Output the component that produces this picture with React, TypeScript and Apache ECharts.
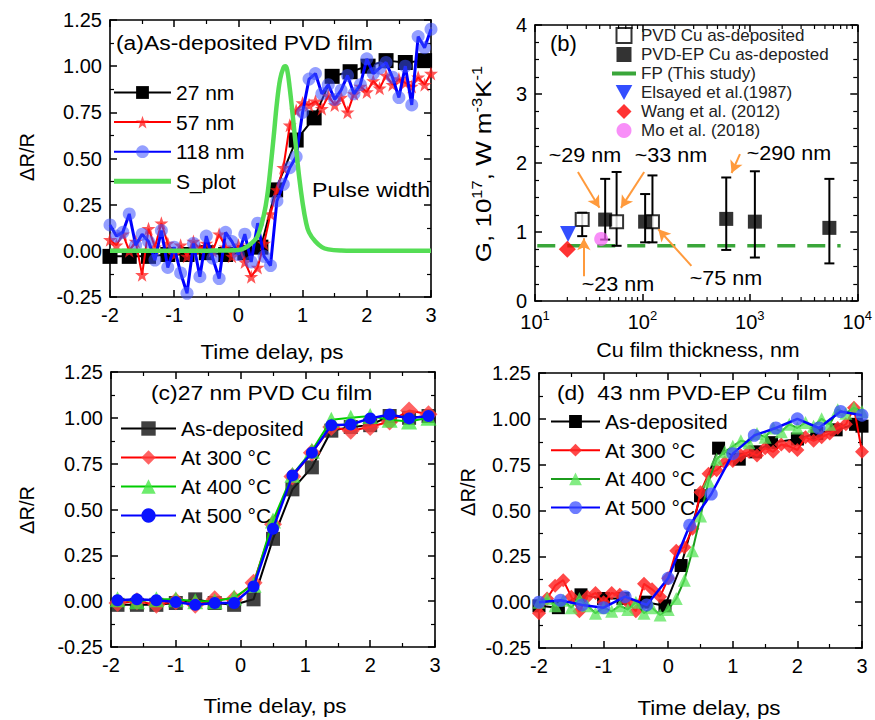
import React, { useEffect, useRef } from 'react';
import * as echarts from 'echarts';

const FONT = '"Liberation Sans", Arial, Helvetica, sans-serif';
const STAR = 'path://M50,2 L61.8,35.5 L97.6,35.5 L68.9,56.9 L79.4,91 L50,70.2 L20.6,91 L31.1,56.9 L2.4,35.5 L38.2,35.5 Z';

// ---------- Panel (a): as-deposited PVD film ----------
const t27 = [-2, -1.7, -1.4, -1.1, -0.8, -0.5, -0.2, 0.1, 0.35, 0.58, 0.9, 1.18, 1.46, 1.74, 2.02, 2.3, 2.6, 2.9];
const v27 = [-0.03, -0.03, -0.03, -0.02, -0.02, -0.01, -0.02, -0.01, 0.02, 0.33, 0.6, 0.72, 0.945, 0.97, 1.0, 1.03, 1.02, 1.03];
const tA = [-2, -1.9, -1.8, -1.7, -1.6, -1.5, -1.4, -1.3, -1.2, -1.1, -1, -0.9, -0.8, -0.7, -0.6, -0.5, -0.4, -0.3, -0.2, -0.1, 0, 0.1, 0.2, 0.3, 0.4, 0.5, 0.6, 0.7, 0.8, 0.9, 1, 1.1, 1.2, 1.3, 1.4, 1.5, 1.6, 1.7, 1.8, 1.9, 2, 2.1, 2.2, 2.3, 2.4, 2.5, 2.6, 2.7, 2.8, 2.9, 3];
const v57 = [0.06, 0.03, 0.09, 0.0, 0.05, -0.13, 0.12, 0.02, 0.15, 0.04, -0.02, 0.03, -0.03, 0.05, 0.01, 0.04, 0.0, 0.09, 0.02, -0.03, 0.03, -0.06, -0.14, -0.09, 0.04, 0.2, 0.33, 0.45, 0.68, 0.76, 0.8, 0.79, 0.81, 0.77, 0.84, 0.79, 0.83, 0.75, 0.85, 0.89, 0.86, 0.92, 0.88, 0.95, 0.9, 0.93, 0.91, 0.89, 0.94, 0.9, 0.96];
const v118 = [0.14, 0.08, 0.1, 0.2, 0.03, 0.09, 0.05, -0.05, 0.11, -0.09, 0.02, -0.12, -0.23, 0.04, -0.14, 0.08, -0.04, -0.15, 0.1, 0.05, -0.02, 0.09, -0.06, 0.15, -0.03, -0.08, 0.27, 0.36, 0.45, 0.51, 0.75, 0.93, 0.96, 0.85, 0.9, 0.82, 0.87, 0.95, 0.85, 0.9, 1.04, 0.96, 0.99, 1.02, 0.94, 0.83, 1.0, 0.79, 1.16, 1.1, 1.2];
const tS = [-2, -1, -0.5, 0, 0.1, 0.2, 0.3, 0.4, 0.45, 0.5, 0.55, 0.6, 0.65, 0.7, 0.73, 0.76, 0.8, 0.85, 0.9, 0.95, 1.0, 1.05, 1.1, 1.2, 1.3, 1.4, 1.6, 2, 3];
const vS = [0, 0, 0.001, 0.005, 0.015, 0.04, 0.08, 0.2, 0.3, 0.45, 0.62, 0.8, 0.93, 0.99, 1.0, 0.98, 0.88, 0.72, 0.55, 0.39, 0.26, 0.16, 0.1, 0.05, 0.02, 0.008, 0.002, 0, 0];

// ---------- Panel (b): coupling factor G vs thickness ----------
const pvdThk = [27.5, 57.5, 124];
const pvdG = [1.18, 1.15, 1.15];
const pvdLo = [0.94, 0.8, 0.85];
const pvdHi = [1.28, 1.87, 1.82];
const epThk = [45, 106, 603, 1114, 5500];
const epG = [1.18, 1.15, 1.19, 1.15, 1.06];
const epLo = [0.89, 0.85, 0.74, 0.63, 0.545];
const epHi = [1.77, 1.55, 1.79, 1.88, 1.77];
const fpThk = [10.5, 7000];
const fpG = [0.8, 0.8];
const elsayed = [[20.3, 0.97]];
const wang = [[20, 0.75]];
const mo = [[41.3, 0.9]];
const arrowFrom = [[25.1, 1.87], [103.8, 1.87], [28.5, 0.36], [285.8, 0.51], [809, 2.13]];
const arrowTo = [[39.8, 1.35], [63.1, 1.35], [28.5, 0.91], [140.6, 1.04], [676, 1.855]];
const logMinor = [20, 30, 40, 50, 60, 70, 80, 90, 200, 300, 400, 500, 600, 700, 800, 900, 2000, 3000, 4000, 5000, 6000, 7000, 8000, 9000];

// ---------- Panel (c): 27 nm PVD Cu film ----------
const tC = [-1.9, -1.6, -1.3, -1.0, -0.7, -0.4, -0.1, 0.2, 0.5, 0.8, 1.1, 1.4, 1.7, 2.0, 2.3, 2.6, 2.9];
const cAs = [-0.02, -0.02, -0.02, -0.01, 0.01, -0.01, -0.02, 0.01, 0.34, 0.61, 0.73, 0.93, 0.95, 0.96, 1.01, 1.0, 1.01];
const c300 = [-0.01, 0.0, -0.02, 0.0, -0.02, 0.01, 0.01, 0.1, 0.42, 0.68, 0.81, 0.95, 0.93, 0.95, 0.98, 1.04, 1.02];
const c400 = [0.01, 0.0, 0.01, 0.01, 0.0, 0.0, 0.02, 0.09, 0.44, 0.69, 0.82, 0.99, 1.0, 1.01, 0.99, 0.98, 1.0];
const c500 = [0.005, 0.01, 0.005, -0.005, -0.02, -0.01, -0.01, 0.08, 0.395, 0.686, 0.81, 0.96, 0.964, 0.997, 1.018, 0.997, 1.01];

// ---------- Panel (d): 43 nm PVD-EP Cu film ----------
const tDb = [-2.0, -1.7, -1.35, -1.0, -0.7, -0.35, -0.05, 0.2, 0.5, 0.78, 1.1, 1.35, 1.6, 2.0, 2.3, 2.6, 2.9, 3.0];
const dAs = [-0.02, -0.03, 0.04, 0.02, 0.02, 0.0, -0.02, 0.2, 0.58, 0.84, 0.78, 0.82, 0.87, 0.89, 0.92, 0.94, 0.97, 0.96];
const tD = [-2, -1.875, -1.75, -1.625, -1.5, -1.375, -1.25, -1.125, -1, -0.875, -0.75, -0.625, -0.5, -0.375, -0.25, -0.125, 0, 0.125, 0.25, 0.375, 0.5, 0.625, 0.75, 0.875, 1, 1.125, 1.25, 1.375, 1.5, 1.625, 1.75, 1.875, 2, 2.125, 2.25, 2.375, 2.5, 2.625, 2.75, 2.875, 3];
const d300 = [-0.06, 0.02, 0.09, 0.12, 0.03, -0.05, 0.03, 0.05, 0.0, 0.05, 0.04, 0.0, -0.05, 0.1, 0.07, 0.03, 0.13, 0.28, 0.3, 0.4, 0.6, 0.7, 0.72, 0.76, 0.77, 0.8, 0.82, 0.8, 0.84, 0.82, 0.86, 0.85, 0.83, 0.9, 0.88, 0.9, 0.92, 0.95, 0.97, 1.06, 0.82];
const d400 = [0.0, 0.02, -0.02, 0.01, -0.03, 0.02, -0.02, -0.06, -0.03, -0.05, -0.02, -0.04, 0.0, -0.06, -0.03, -0.07, -0.04, 0.02, 0.12, 0.28, 0.47, 0.66, 0.78, 0.82, 0.85, 0.88, 0.87, 0.92, 0.9, 0.95, 0.93, 0.97, 0.95, 0.98, 0.96, 1.0, 0.97, 1.05, 1.03, 1.06, 1.04];
const tDc = [-2, -1.667, -1.333, -1, -0.667, -0.333, 0, 0.333, 0.667, 1, 1.333, 1.667, 2, 2.333, 2.667, 3];
const d500 = [0.0, 0.01, -0.015, -0.03, 0.03, -0.015, 0.13, 0.42, 0.59, 0.81, 0.91, 0.95, 1.0, 0.95, 1.04, 1.02];

const zip = (xs: number[], ys: number[]) => xs.map((x, i) => [x, ys[i]]);

function axis(gridIndex: number, position: string, labels: boolean, spec: any, labelExtra: any = {}) {
  return {
    gridIndex,
    position,
    axisLine: { show: true, onZero: false, lineStyle: { color: '#000', width: 1.6 } },
    axisTick: { show: true, inside: true, length: 7, lineStyle: { color: '#000', width: 1.5 } },
    minorTick: { show: true, splitNumber: 2, length: 4, lineStyle: { color: '#000', width: 1.2 } },
    splitLine: { show: false },
    minorSplitLine: { show: false },
    axisLabel: { show: labels, color: '#000', fontFamily: FONT, fontSize: 20, margin: 8, ...labelExtra },
    ...spec,
  };
}

const timeSpec = { type: 'value', min: -2, max: 3, interval: 1 };
const drSpec = { type: 'value', min: -0.25, max: 1.25, interval: 0.25 };
const logSpec = { type: 'log', logBase: 10, min: 10, max: 10000, minorTick: { show: false } };
const gSpec = {
  type: 'value', min: 0, max: 4, interval: 1,
  minorTick: { show: true, splitNumber: 4, length: 4, lineStyle: { color: '#000', width: 1.2 } },
};

function txt(x: number, y: number, text: string, size: number, align = 'left', rotation = 0, scaleX = 1) {
  return {
    type: 'text', x, y, rotation, scaleX, silent: true,
    style: { text, font: `${size}px ${FONT}`, fill: '#000', align, verticalAlign: 'middle' },
  };
}

function lineSeries(name: string, xi: number, data: number[][], symbol: string, size: number, fill: string, stroke: string, lw: number, z = 2) {
  return {
    type: 'line', name, xAxisIndex: xi, yAxisIndex: xi, data,
    symbol, symbolSize: size, showAllSymbol: true, z,
    itemStyle: { color: fill, borderWidth: 0 },
    lineStyle: { color: stroke, width: lw },
    emphasis: { disabled: true },
  };
}

export default function App() {
  const ref = useRef<HTMLDivElement>(null);
  useEffect(() => {
    if (!ref.current) return;
    const chart = echarts.init(ref.current, undefined, { renderer: 'svg' });

    const errData = pvdThk.map((x, i) => [x, pvdLo[i], pvdHi[i]]).concat(epThk.map((x, i) => [x, epLo[i], epHi[i]]));

    const option: any = {
      animation: false,
      textStyle: { fontFamily: FONT },
      grid: [
        { left: 110, top: 20, width: 321, height: 277 },
        { left: 535, top: 25, width: 325, height: 276 },
        { left: 111, top: 372, width: 324, height: 275 },
        { left: 539, top: 373, width: 323, height: 275 },
      ],
      xAxis: [
        axis(0, 'bottom', true, timeSpec),
        axis(0, 'top', false, timeSpec),
        axis(1, 'bottom', true, logSpec, {
          fontSize: 19,
          formatter: (v: number) => `{b|10}{s|${Math.round(Math.log10(v))}}`,
          rich: {
            b: { fontSize: 20, fontFamily: FONT, color: '#000', lineHeight: 26 },
            s: { fontSize: 13, fontFamily: FONT, color: '#000', lineHeight: 14, verticalAlign: 'top' },
          },
        }),
        axis(1, 'top', false, logSpec),
        axis(2, 'bottom', true, timeSpec),
        axis(2, 'top', false, timeSpec),
        axis(3, 'bottom', true, timeSpec),
        axis(3, 'top', false, timeSpec),
      ],
      yAxis: [
        axis(0, 'left', true, drSpec, { formatter: (v: number) => v.toFixed(2) }),
        axis(0, 'right', false, drSpec),
        axis(1, 'left', true, gSpec, { fontSize: 20 }),
        axis(1, 'right', false, gSpec),
        axis(2, 'left', true, drSpec, { formatter: (v: number) => v.toFixed(2) }),
        axis(2, 'right', false, drSpec),
        axis(3, 'left', true, drSpec, { formatter: (v: number) => v.toFixed(2) }),
        axis(3, 'right', false, drSpec),
      ],
      legend: [
        {
          data: ['27 nm', '57 nm', '118 nm', { name: 'S_plot', icon: 'path://M0,0 H57 V5 H0 Z' }],
          orient: 'vertical', left: 113, top: 82, padding: 0,
          itemWidth: 57, itemHeight: 16, itemGap: 8.6, selectedMode: false,
          textStyle: { fontSize: 21, color: '#000', fontFamily: FONT },
        },
        {
          data: [
            { name: 'PVD Cu as-deposited', icon: 'path://M0,0 H10 V10 H0 Z' },
            { name: 'PVD-EP Cu as-deposted', icon: 'path://M0,0 H10 V10 H0 Z' },
            { name: 'FP (This study)', icon: 'path://M0,0 H24 V4 H0 Z' },
            { name: 'Elsayed et al.(1987)', icon: 'path://M0,0 L10,0 L5,9 Z' },
            { name: 'Wang et al. (2012)', icon: 'path://M5,0 L10,5 L5,10 L0,5 Z' },
            { name: 'Mo et al. (2018)', icon: 'circle' },
          ],
          orient: 'vertical', left: 612, top: 27, padding: 0,
          itemWidth: 24, itemHeight: 15, itemGap: 2, selectedMode: false,
          textStyle: { fontSize: 17, color: '#222', fontFamily: FONT },
        },
        {
          data: ['As-deposited', 'At 300 °C', 'At 400 °C', 'At 500 °C'], orient: 'vertical', left: 120, top: 418, padding: 0,
          itemWidth: 55, itemHeight: 18, itemGap: 8, selectedMode: false,
          textStyle: { fontSize: 21, color: '#000', fontFamily: FONT },
        },
        {
          data: ['As-deposited ', 'At 300 °C ', 'At 400 °C ', 'At 500 °C '], orient: 'vertical', left: 550, top: 411, padding: 0,
          itemWidth: 49, itemHeight: 16, itemGap: 7.7, selectedMode: false,
          formatter: (n: string) => n.trim(),
          textStyle: { fontSize: 21, color: '#000', fontFamily: FONT },
        },
      ],
      series: [
        // Panel (a)
        lineSeries('27 nm', 0, zip(t27, v27), 'rect', 15, '#000', '#000', 2, 2),
        lineSeries('57 nm', 0, zip(tA, v57), STAR, 14, 'rgba(255,30,30,0.75)', '#ff0000', 2, 3),
        lineSeries('118 nm', 0, zip(tA, v118), 'circle', 13, 'rgba(60,80,255,0.55)', '#0000ff', 3, 4),
        { ...lineSeries('S_plot', 0, zip(tS, vS), 'none', 0, '#55dd55', '#55dd55', 4.5, 6), smooth: 0.4 },
        // Panel (b)
        {
          type: 'custom', xAxisIndex: 2, yAxisIndex: 2, silent: true, z: 2,
          data: errData, encode: { x: 0, y: [1, 2] },
          renderItem: (_p: any, api: any) => {
            const x = api.value(0);
            const lo = api.coord([x, api.value(1)]);
            const hi = api.coord([x, api.value(2)]);
            const w = 5;
            const st = { stroke: '#000', lineWidth: 2 };
            return {
              type: 'group', children: [
                { type: 'line', shape: { x1: lo[0], y1: lo[1], x2: hi[0], y2: hi[1] }, style: st },
                { type: 'line', shape: { x1: lo[0] - w, y1: lo[1], x2: lo[0] + w, y2: lo[1] }, style: st },
                { type: 'line', shape: { x1: hi[0] - w, y1: hi[1], x2: hi[0] + w, y2: hi[1] }, style: st },
              ],
            };
          },
        },
        {
          type: 'custom', xAxisIndex: 2, yAxisIndex: 2, silent: true, z: 5, clip: false,
          data: logMinor.map((v) => [v, 0]),
          renderItem: (_p: any, api: any) => {
            const v = api.value(0);
            const b = api.coord([v, 0]);
            const t = api.coord([v, 4]);
            const st = { stroke: '#000', lineWidth: 1.2 };
            return {
              type: 'group', children: [
                { type: 'line', shape: { x1: b[0], y1: b[1], x2: b[0], y2: b[1] - 4 }, style: st },
                { type: 'line', shape: { x1: t[0], y1: t[1], x2: t[0], y2: t[1] + 4 }, style: st },
              ],
            };
          },
        },
        {
          type: 'line', name: 'FP (This study)', xAxisIndex: 2, yAxisIndex: 2, data: zip(fpThk, fpG),
          symbol: 'none', z: 1, lineStyle: { color: '#3aa63a', width: 3.5, type: [18, 12] }, itemStyle: { color: '#3aa63a' },
          emphasis: { disabled: true },
          markLine: {
            silent: true, symbol: ['none', 'arrow'], symbolSize: [10, 12], animation: false,
            lineStyle: { color: '#ff9a3c', width: 2, type: 'solid' }, label: { show: false }, emphasis: { disabled: true },
            data: arrowFrom.map((f, i) => [{ coord: f }, { coord: arrowTo[i] }]),
          },
        },
        {
          type: 'scatter', name: 'PVD Cu as-deposited', xAxisIndex: 2, yAxisIndex: 2, data: zip(pvdThk, pvdG),
          symbol: 'rect', symbolSize: 13, z: 4, itemStyle: { color: '#fff', borderColor: '#000', borderWidth: 2 },
          emphasis: { disabled: true },
        },
        {
          type: 'scatter', name: 'PVD-EP Cu as-deposted', xAxisIndex: 2, yAxisIndex: 2, data: zip(epThk, epG),
          symbol: 'rect', symbolSize: 14, z: 4, itemStyle: { color: '#000' }, emphasis: { disabled: true },
        },
        {
          type: 'scatter', name: 'Elsayed et al.(1987)', xAxisIndex: 2, yAxisIndex: 2, data: elsayed,
          symbol: 'triangle', symbolRotate: 180, symbolSize: 16, z: 4, itemStyle: { color: '#0022ff' }, emphasis: { disabled: true },
        },
        {
          type: 'scatter', name: 'Wang et al. (2012)', xAxisIndex: 2, yAxisIndex: 2, data: wang,
          symbol: 'diamond', symbolSize: 17, z: 4, itemStyle: { color: '#ff0000' }, emphasis: { disabled: true },
        },
        {
          type: 'scatter', name: 'Mo et al. (2018)', xAxisIndex: 2, yAxisIndex: 2, data: mo,
          symbol: 'circle', symbolSize: 14, z: 4, itemStyle: { color: 'rgba(245,100,245,0.9)' }, emphasis: { disabled: true },
        },
        // Panel (c)
        lineSeries('As-deposited', 4, zip(tC, cAs), 'rect', 14, 'rgba(30,30,30,0.85)', '#000', 2, 2),
        lineSeries('At 300 °C', 4, zip(tC, c300), 'diamond', 18, 'rgba(255,60,60,0.8)', '#ff0000', 2, 3),
        lineSeries('At 400 °C', 4, zip(tC, c400), 'triangle', 16, 'rgba(60,230,60,0.75)', '#00cc00', 2, 4),
        lineSeries('At 500 °C', 4, zip(tC, c500), 'circle', 12, '#0a14ff', '#0000ff', 2.5, 5),
        // Panel (d)
        lineSeries('As-deposited ', 6, zip(tDb, dAs), 'rect', 13, '#000', '#000', 2, 2),
        lineSeries('At 300 °C ', 6, zip(tD, d300), 'diamond', 14, 'rgba(255,40,40,0.85)', '#ff0000', 2, 3),
        lineSeries('At 400 °C ', 6, zip(tD, d400), 'triangle', 13, 'rgba(90,230,90,0.75)', '#1c9c1c', 2, 4),
        lineSeries('At 500 °C ', 6, zip(tDc, d500), 'circle', 13, 'rgba(60,80,255,0.75)', '#0000ff', 2.5, 5),
      ],
      graphic: [
        txt(116, 43, '(a)As-deposited PVD film', 21, 'left', 0, 1.09),
        txt(312, 190, 'Pulse width', 21, 'left', 0, 1.1),
        txt(550, 43, '(b)', 22),
        txt(585, 155, '~29 nm', 20, 'center', 0, 1.08),
        txt(671, 155, '~33 nm', 20, 'center', 0, 1.08),
        txt(618, 284, '~23 nm', 20, 'center', 0, 1.08),
        txt(726, 278, '~75 nm', 20, 'center', 0, 1.08),
        txt(789, 153, '~290 nm', 20, 'center', 0, 1.08),
        txt(151, 393, '(c)27 nm PVD Cu film', 21, 'left', 0, 1.09),
        txt(557, 393, '(d)  43 nm PVD-EP Cu film', 21, 'left', 0, 1.08),
        txt(272, 352, 'Time delay, ps', 20, 'center', 0, 1.12),
        txt(27, 157, 'ΔR/R', 20, 'center', Math.PI / 2),
        txt(698, 350, 'Cu film thickness, nm', 20, 'center', 0, 1.07),
        {
          type: 'text', x: 483, y: 164, rotation: Math.PI / 2, scaleX: 1.18, silent: true,
          style: {
            text: '{n|G, 10}{s|17}{n|, W m}{s|-3}{n|K}{s|-1}',
            fill: '#000', align: 'center', verticalAlign: 'middle',
            rich: {
              n: { fontSize: 22, fontFamily: FONT, lineHeight: 26, fill: '#000' },
              s: { fontSize: 14, fontFamily: FONT, lineHeight: 15, verticalAlign: 'top', fill: '#000' },
            },
          },
        },
        txt(275, 706, 'Time delay, ps', 20, 'center', 0, 1.12),
        txt(27, 510, 'ΔR/R', 20, 'center', Math.PI / 2),
        txt(468, 492, 'ΔR/R', 20, 'center', Math.PI / 2),
        txt(709, 708, 'Time delay, ps', 20, 'center', 0, 1.12),
      ],
    };
    chart.setOption(option);
    return () => chart.dispose();
  }, []);
  return <div ref={ref} style={{ position: 'absolute', left: 0, top: 0, width: 875, height: 720, background: '#fff' }} />;
}
